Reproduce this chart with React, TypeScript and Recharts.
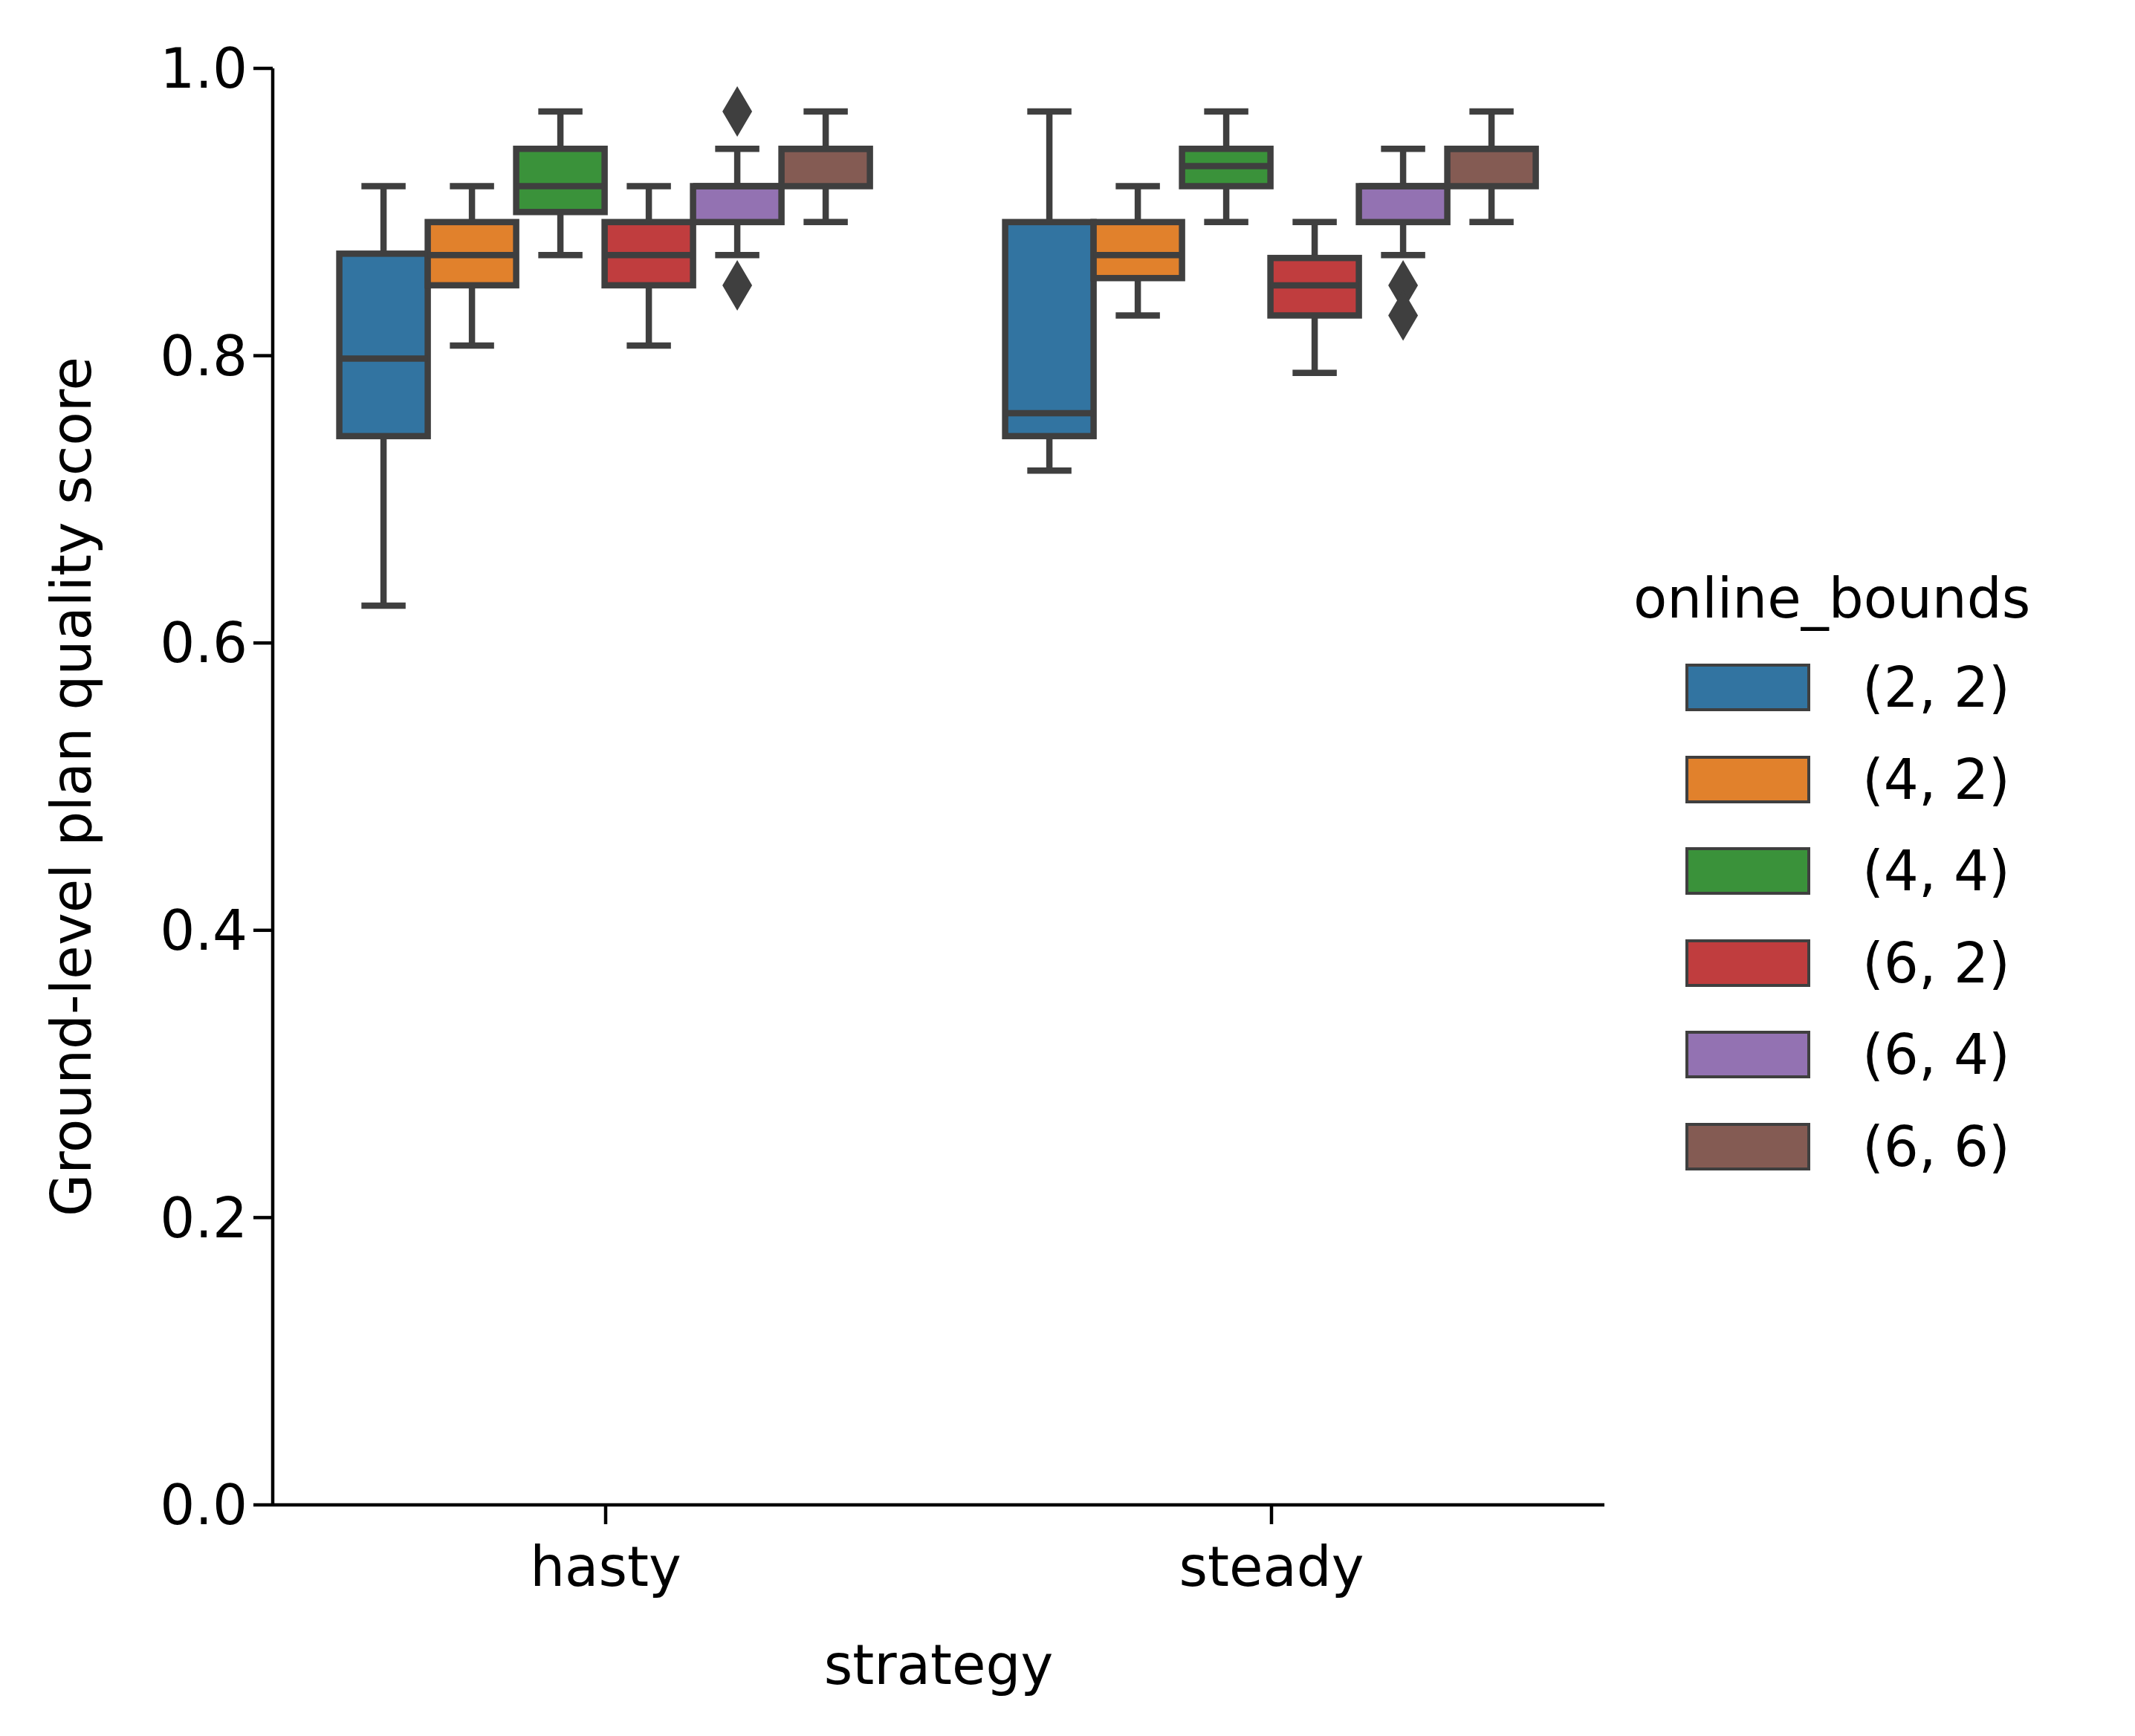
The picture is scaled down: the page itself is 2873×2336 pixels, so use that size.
import React from 'react';
import { BarChart, Bar, XAxis, YAxis, Label } from 'recharts';

const categories = ['hasty', 'steady'];
const seriesNames = ['(2, 2)', '(4, 2)', '(4, 4)', '(6, 2)', '(6, 4)', '(6, 6)'];
const colors = ['#3274a1', '#e1812c', '#3a923a', '#c03d3e', '#9372b2', '#845b53'];
// [whiskerLow, q1, median, q3, whiskerHigh] per category
const hastyStats = [
  [0.626, 0.744, 0.798, 0.871, 0.918],
  [0.807, 0.849, 0.870, 0.893, 0.918],
  [0.870, 0.900, 0.918, 0.944, 0.970],
  [0.807, 0.849, 0.870, 0.893, 0.918],
  [0.870, 0.893, 0.918, 0.918, 0.944],
  [0.893, 0.918, 0.944, 0.944, 0.970],
];
const steadyStats = [
  [0.720, 0.744, 0.760, 0.893, 0.970],
  [0.828, 0.854, 0.870, 0.893, 0.918],
  [0.893, 0.918, 0.932, 0.944, 0.970],
  [0.788, 0.828, 0.849, 0.868, 0.893],
  [0.870, 0.893, 0.918, 0.918, 0.944],
  [0.893, 0.918, 0.944, 0.944, 0.970],
];
const hastyOutliers = [[], [], [], [], [0.970, 0.849], []];
const steadyOutliers = [[], [], [], [], [0.849, 0.828], []];
const yTicks = [0, 0.2, 0.4, 0.6, 0.8, 1.0];

const statsByCat = [hastyStats, steadyStats];
const outliersByCat = [hastyOutliers, steadyOutliers];

const data = categories.map((c, ci) => {
  const row: any = { cat: c };
  seriesNames.forEach((_, si) => {
    const s = statsByCat[ci][si];
    row['s' + si] = [s[0], s[4]];
  });
  return row;
});

const LINE = '#3f3f3f';
const FONT = 'DejaVu Sans';
const LW = 8.5;

const makeShape = (si: number) => (props: any) => {
  const { x, y, width, height, index } = props;
  const s = statsByCat[index][si];
  const outs = outliersByCat[index][si];
  const pu = height / (s[4] - s[0]);
  const py = (v: number) => y + (s[4] - v) * pu;
  const cx = x + width / 2;
  const capW = width / 4;
  return (
    <g>
      <line x1={cx} x2={cx} y1={py(s[4])} y2={py(s[3])} stroke={LINE} strokeWidth={LW} />
      <line x1={cx} x2={cx} y1={py(s[1])} y2={py(s[0])} stroke={LINE} strokeWidth={LW} />
      <line x1={cx - capW} x2={cx + capW} y1={py(s[4])} y2={py(s[4])} stroke={LINE} strokeWidth={LW} />
      <line x1={cx - capW} x2={cx + capW} y1={py(s[0])} y2={py(s[0])} stroke={LINE} strokeWidth={LW} />
      <rect x={x} y={py(s[3])} width={width} height={Math.max(py(s[1]) - py(s[3]), 0.1)} fill={colors[si]} stroke={LINE} strokeWidth={LW} />
      <line x1={x} x2={x + width} y1={py(s[2])} y2={py(s[2])} stroke={LINE} strokeWidth={LW} />
      {outs.map((o: number, k: number) => {
        const oy = py(o);
        return <polygon key={k} points={`${cx},${oy - 34} ${cx + 20},${oy} ${cx},${oy + 34} ${cx - 20},${oy}`} fill={LINE} />;
      })}
    </g>
  );
};

export default function App() {
  return (
    <div style={{ position: 'absolute', left: 0, top: 0, width: 2873, height: 2336, background: '#fff', fontFamily: FONT }}>
      <BarChart width={2873} height={2336} data={data} margin={{ top: 92, right: 714, left: 0, bottom: 0 }}
        barCategoryGap="10%" barGap={0}>
        <XAxis dataKey="cat" height={311} axisLine={{ stroke: '#000', strokeWidth: 4.5 }}
          tickLine={{ stroke: '#000', strokeWidth: 4.5 }} tickSize={26}
          tick={{ fill: '#000', fontSize: 74, fontFamily: FONT, dy: 28 }}>
          <Label value="strategy" position="insideBottom" offset={70} style={{ fill: '#000', fontSize: 74, fontFamily: FONT }} />
        </XAxis>
        <YAxis type="number" domain={[0, 1]} ticks={yTicks} width={367} allowDataOverflow
          tickFormatter={(v: number) => v.toFixed(1)}
          axisLine={{ stroke: '#000', strokeWidth: 4.5 }} tickLine={{ stroke: '#000', strokeWidth: 4.5 }} tickSize={26}
          tick={{ fill: '#000', fontSize: 74, fontFamily: FONT, dx: -6 }}>
          <Label value="Ground-level plan quality score" angle={-90} position="insideLeft" offset={96}
            style={{ fill: '#000', fontSize: 74, fontFamily: FONT, textAnchor: 'middle' }} />
        </YAxis>
        {seriesNames.map((n, si) => (
          <Bar key={n} dataKey={'s' + si} name={n} isAnimationActive={false} shape={makeShape(si)} />
        ))}
      </BarChart>
      <div style={{ position: 'absolute', left: 2198, top: 755, fontSize: 74, color: '#000', lineHeight: '100px', whiteSpace: 'nowrap' }}>online_bounds</div>
      {seriesNames.map((n, si) => (
        <div key={n} style={{ position: 'absolute', left: 2268, top: 894 + si * 123.5, height: 62, display: 'flex', alignItems: 'center' }}>
          <div style={{ width: 160, height: 56, background: colors[si], border: `4px solid ${LINE}` }} />
          <span style={{ marginLeft: 70, fontSize: 74, color: '#000', whiteSpace: 'nowrap' }}>{n}</span>
        </div>
      ))}
    </div>
  );
}
